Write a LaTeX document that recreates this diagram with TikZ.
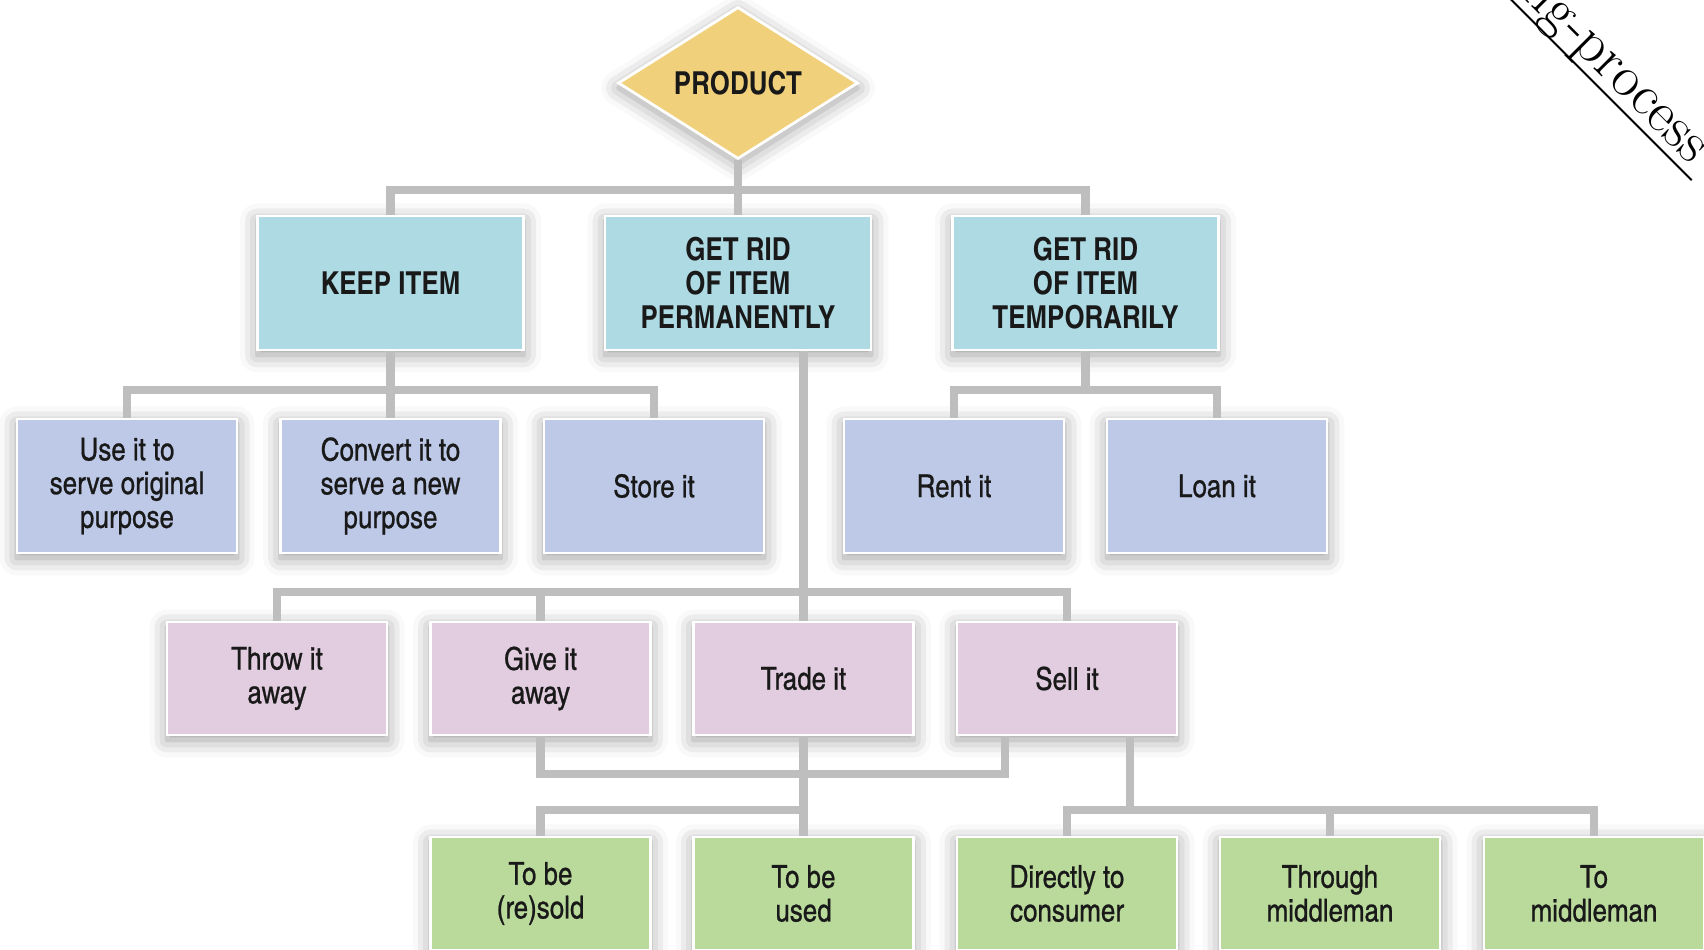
\documentclass[tikz,border=0pt]{standalone}
\usepackage{fontspec}
\newfontfamily\boxfont{texgyreheroscn}[Extension=.otf, UprightFont=*-regular, BoldFont=*-bold, UprightFeatures={FakeBold=0.7}]
\usetikzlibrary{shapes.geometric,shadows.blur,calc}

\definecolor{productfill}{RGB}{240,208,122}
\definecolor{choicefill}{RGB}{174,218,228}
\definecolor{keepfill}{RGB}{189,201,230}
\definecolor{ridfill}{RGB}{226,205,224}
\definecolor{salefill}{RGB}{186,218,156}
\definecolor{linkgray}{RGB}{190,190,190}

\begin{document}
\begin{tikzpicture}[box/.style={draw=white,line width=1.6pt,minimum width=4.4cm,minimum height=2.68cm,inner sep=2pt,align=center,text=black!90,font=\boxfont\fontsize{18}{19.2}\selectfont,blur shadow={shadow xshift=0cm,shadow yshift=-0.1cm,shadow blur radius=0.35cm,shadow opacity=40}},
  choice/.style={box,fill=choicefill,minimum width=5.32cm,font=\boxfont\bfseries\fontsize{18}{19.2}\selectfont},
  keepbox/.style={box,fill=keepfill},
  ridbox/.style={box,fill=ridfill,minimum height=2.26cm},
  salebox/.style={box,fill=salefill,minimum height=2.26cm},
  link/.style={draw=linkgray,line width=5pt}]

        \useasboundingbox (0,0) rectangle (34.08,19);

        \pgfmathsetmacro{\ya}{13.34}
        \pgfmathsetmacro{\yb}{9.28}
        \pgfmathsetmacro{\yc}{5.43}
        \pgfmathsetmacro{\yd}{1.13}

        \node[diamond,draw=white,line width=1.6pt,fill=productfill,minimum width=4.8cm,minimum height=2.98cm,inner sep=0pt,text=black!90,font=\boxfont\bfseries\fontsize{18}{19.2}\selectfont,blur shadow={shadow xshift=0cm,shadow yshift=-0.1cm,shadow blur radius=0.35cm,shadow opacity=40}] (product) at (14.76, 17.34) {PRODUCT};

        \node[choice] (keep) at (7.81, \ya) {KEEP ITEM};
        \node[choice] (perm) at (14.76, \ya) {GET RID\\OF ITEM\\PERMANENTLY};
        \node[choice] (temp) at (21.71, \ya) {GET RID\\OF ITEM\\TEMPORARILY};

        \node[keepbox] (use) at (2.54, \yb) {Use it to\\serve original\\purpose};
        \node[keepbox] (convert) at (7.81, \yb) {Convert it to\\serve a new\\purpose};
        \node[keepbox] (store) at (13.08, \yb) {Store it};
        \node[keepbox] (rent) at (19.08, \yb) {Rent it};
        \node[keepbox] (loan) at (24.34, \yb) {Loan it};

        \node[ridbox] (throw) at (5.54, \yc) {Throw it\\away};
        \node[ridbox] (give) at (10.81, \yc) {Give it\\away};
        \node[ridbox] (trade) at (16.07, \yc) {Trade it};
        \node[ridbox] (sell) at (21.34, \yc) {Sell it};

        \node[salebox] (resold) at (10.81, \yd) {To be\\(re)sold};
        \node[salebox] (used) at (16.07, \yd) {To be\\used};
        \node[salebox] (direct) at (21.34, \yd) {Directly to\\consumer};
        \node[salebox] (through) at (26.60, \yd) {Through\\middleman};
        \node[salebox] (tomid) at (31.88, \yd) {To\\middleman};

        \coordinate (topbar) at (0, 15.2);
        \coordinate (keepbar) at (0, 11.2);
        \coordinate (ridbar) at (0, 7.16);
        \coordinate (backbar) at (0, 3.52);
        \coordinate (salebar) at (0, 2.8);

        \draw[link] (product.south) -- (perm.north);
        \draw[link] (keep.north) |- (topbar -| product) -| (temp.north);

        \draw[link] (keep.south) -- (convert.north);
        \draw[link] (use.north) |- (keepbar -| convert) -| (store.north);
        \draw[link] (temp.south) -- (temp.south |- keepbar);
        \draw[link] (rent.north) |- (keepbar -| temp) -| (loan.north);

        \draw[link] (perm.south -| trade.north) -- (trade.north);
        \draw[link] (throw.north) |- (ridbar -| give) -| (sell.north);
        \draw[link] (give.north) -- (give.north |- ridbar);

        \draw[link] (give.south) |- (backbar -| trade) -| ([xshift=-1.24cm]sell.south);
        \draw[link] (trade.south) -- (used.north);
        \draw[link] (resold.north) |- (salebar -| used);
        \draw[link] ([xshift=1.26cm]sell.south) -- ([xshift=1.26cm]sell.south |- salebar);
        \draw[link] (direct.north) |- (salebar -| through) -| (tomid.north);
        \draw[link] (through.north) -- (through.north |- salebar);

        \node[rotate=-45,anchor=base east,inner sep=0pt,font=\fontsize{33}{36}\selectfont] (url) at (33.80, 15.70) {ng-process};
        \draw[line width=1.1pt] ($(url.base west)+(-135:0.19)+(135:0.6)$) -- ($(url.base east)+(-135:0.19)+(-45:0.24)$);
      \end{tikzpicture}
\end{document}
